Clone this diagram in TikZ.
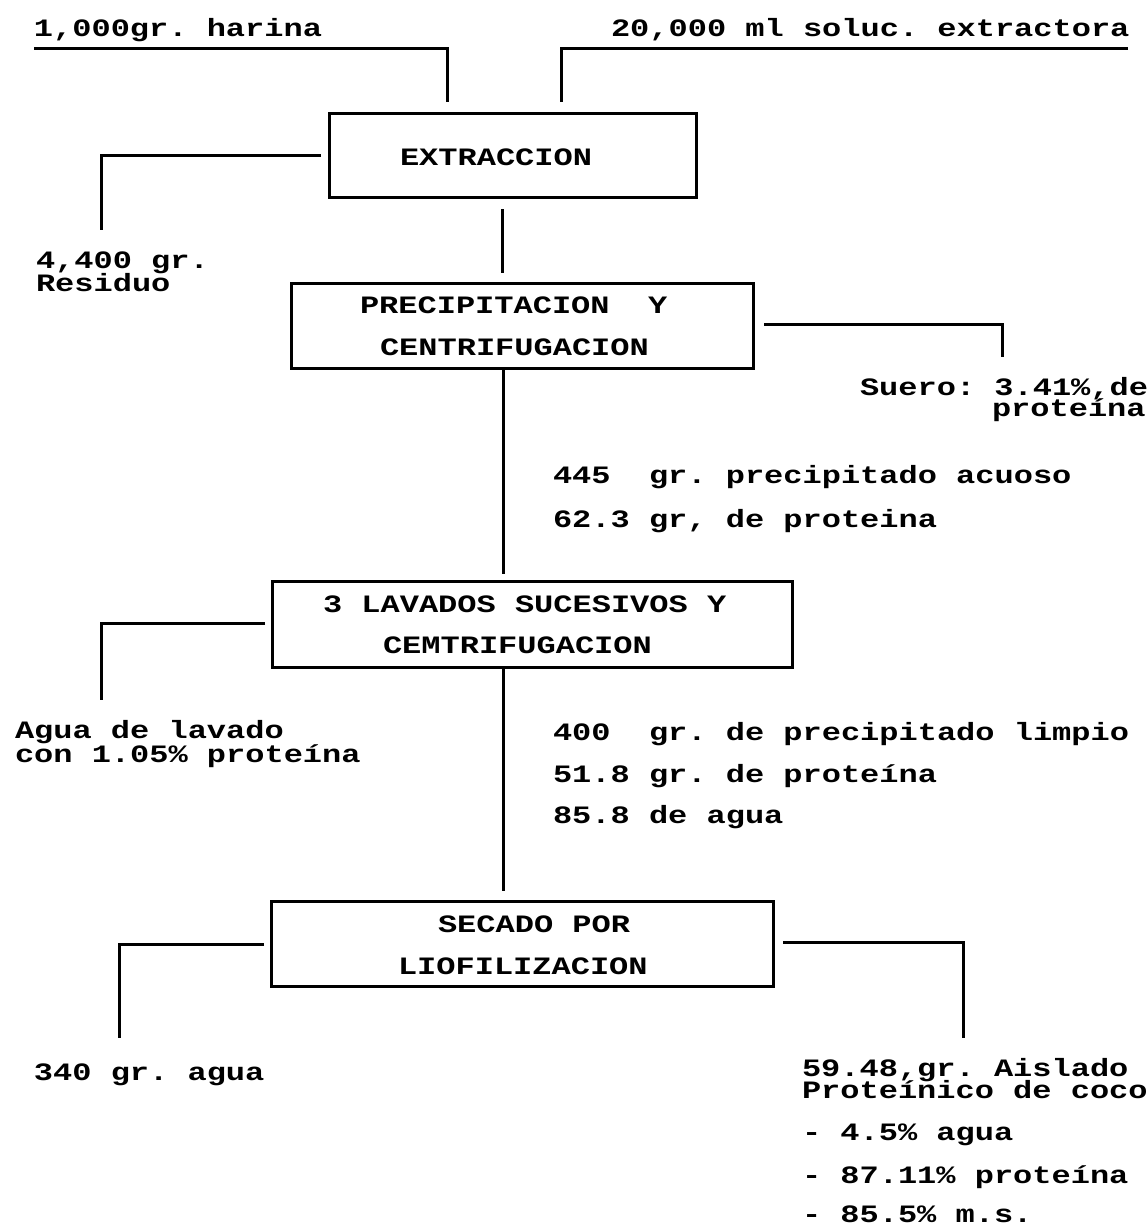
\documentclass[tikz,border=0pt]{standalone}
\usepackage{fontspec}
\newfontfamily\tw[FakeStretch=1.28]{Liberation Mono}
\begin{document}
\frenchspacing
\begin{tikzpicture}[x=1pt,y=1pt,
  every node/.style={inner sep=0pt, outer sep=0pt},
  lbl/.style={anchor=base west, font=\tw\bfseries\fontsize{25}{25}\selectfont\frenchspacing},
  ln/.style={line width=3pt, line join=miter},
  procbox/.style={draw, line width=3pt}]
\useasboundingbox (0,0) rectangle (1148,-1229);
\fill[white] (0,0) rectangle (1148,-1229);

% process boxes
\node[procbox, minimum width=367pt, minimum height=84pt] (ext) at (512.5,-155) {};
\node[procbox, minimum width=462pt, minimum height=85pt] (pre) at (522,-325.5) {};
\node[procbox, minimum width=520pt, minimum height=86pt] (lav) at (532,-624) {};
\node[procbox, minimum width=502pt, minimum height=85pt] (sec) at (522,-943.5) {};

% box texts
\node[lbl] (extT) at (400,-165) {EXTRACCION};
\node[lbl] (preT1) at (360,-313) {PRECIPITACION~ Y};
\node[lbl] (preT2) at (380,-355) {CENTRIFUGACION};
\node[lbl] (lavT1) at (323,-612) {3 LAVADOS SUCESIVOS Y};
\node[lbl] (lavT2) at (383,-653) {CEMTRIFUGACION};
\node[lbl] (secT1) at (438,-932) {SECADO POR};
\node[lbl] (secT2) at (398,-974) {LIOFILIZACION};

% free texts
\node[lbl] (har) at (34,-36) {1,000gr. harina};
\node[lbl] (sol) at (611,-36) {20,000 ml soluc. extractora};
\node[lbl] (res1) at (36,-268) {4,400 gr.};
\node[lbl] (res2) at (36,-291) {Residuo};
\node[lbl] (sue1) at (860,-395) {Suero: 3.41\%,de};
\node[lbl] (sue2) at (992,-416) {proteína};
\node[lbl] (pa1) at (553,-483) {445~ gr. precipitado acuoso};
\node[lbl] (pa2) at (553,-527) {62.3 gr, de proteina};
\node[lbl] (ag1) at (15,-738) {Agua de lavado};
\node[lbl] (ag2) at (15,-762) {con 1.05\% proteína};
\node[lbl] (pl1) at (553,-740) {400~ gr. de precipitado limpio};
\node[lbl] (pl2) at (553,-782) {51.8 gr. de proteína};
\node[lbl] (pl3) at (553,-823) {85.8 de agua};
\node[lbl] (agu) at (34,-1080) {340 gr. agua};
\node[lbl] (ai1) at (802,-1076) {59.48,gr. Aislado};
\node[lbl] (ai2) at (802,-1098) {Proteínico de coco};
\node[lbl] (ai3) at (802,-1140) {- 4.5\% agua};
\node[lbl] (ai4) at (802,-1183) {- 87.11\% proteína};
\node[lbl] (ai5) at (802,-1222) {- 85.5\% m.s.};

% connector end points
\coordinate (h0) at (34,-48);    \coordinate (h1) at (447,-102);
\coordinate (s0) at (1128,-48);  \coordinate (s1) at (561,-102);
\coordinate (r0) at (321,-155);  \coordinate (r1) at (101,-230);
\coordinate (e0) at (502,-209);  \coordinate (e1) at (502,-273);
\coordinate (u0) at (764,-324);  \coordinate (u1) at (1002,-357);
\coordinate (p0) at (503,-368);  \coordinate (p1) at (503,-574);
\coordinate (a0) at (265,-623);  \coordinate (a1) at (101,-700);
\coordinate (l0) at (503,-667);  \coordinate (l1) at (503,-891);
\coordinate (w0) at (264,-944);  \coordinate (w1) at (119,-1038);
\coordinate (i0) at (783,-942);  \coordinate (i1) at (963,-1038);

\draw[ln] (h0) -| (h1);
\draw[ln] (s0) -| (s1);
\draw[ln] (r0) -| (r1);
\draw[ln] (e0) -- (e1);
\draw[ln] (u0) -| (u1);
\draw[ln] (p0) -- (p1);
\draw[ln] (a0) -| (a1);
\draw[ln] (l0) -- (l1);
\draw[ln] (w0) -| (w1);
\draw[ln] (i0) -| (i1);
\end{tikzpicture}
\end{document}
